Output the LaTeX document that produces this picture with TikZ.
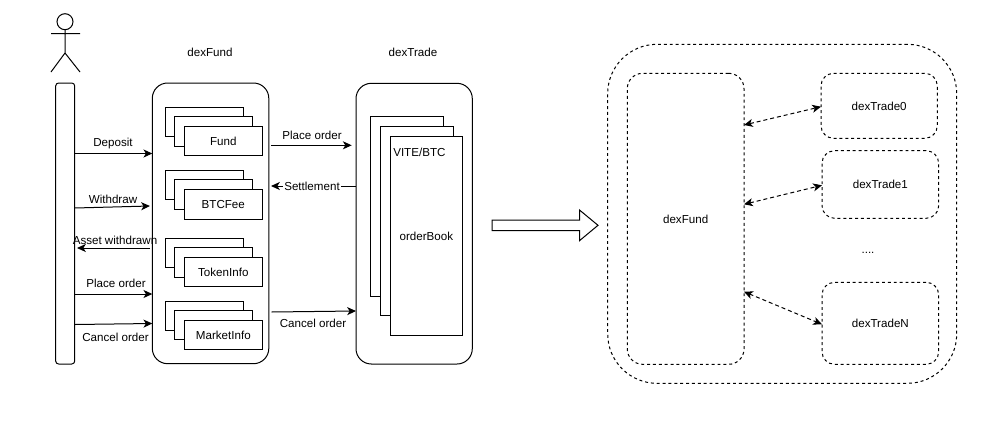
\documentclass[tikz,border=0pt]{standalone}
\usepackage{fontspec}
\setmainfont{Liberation Sans}
\usetikzlibrary{arrows.meta}
\tikzset{
  px/.style 2 args={minimum width=#1*0.75pt,minimum height=#2*0.75pt},
  base/.style={draw=black,line width=0.75pt,fill=white,inner sep=0pt,outer sep=0pt,anchor=north west,font=\fontsize{8.7}{10}\selectfont,text=black,text height=6.6pt,text depth=0pt},
  page/.style={base,px={78}{29.3}},
  book/.style={base,px={73}{180}},
  panel/.style={base,rounded corners=11.5pt,px={116.5}{280.7}},
  dbox/.style={base,dash pattern=on 2.2pt off 2.2pt,rounded corners=#1},
  lbl/.style={font=\fontsize{8.7}{10}\selectfont,inner sep=0pt,text=black,text height=6.6pt,text depth=0pt},
  conn/.style={line width=0.75pt,draw=black,-{Stealth[length=6.6pt,width=6pt,inset=1.8pt]}},
  dconn/.style={line width=0.75pt,draw=black,dash pattern=on 3pt off 2.2pt,{Stealth[length=6.6pt,width=6pt,inset=1.8pt]}-{Stealth[length=6.6pt,width=6pt,inset=1.8pt]}},
  stroke/.style={line width=0.75pt,draw=black}
}
\begin{document}
\begin{tikzpicture}[x=0.75pt,y=-0.75pt]
\useasboundingbox[fill=white] (0,0) rectangle (1000,433);
% actor
\node[stroke,circle,inner sep=0pt,outer sep=0pt,minimum size=12pt,anchor=center] (head) at (65,21.7) {};
\coordinate (hip) at (65,53);
\coordinate (armL) at (51,33.5);
\coordinate (armR) at (80,33.5);
\coordinate (legL) at (51,72);
\coordinate (legR) at (80,72);
\draw[stroke] (head.south) -- (hip) (armL) -- (armR) (legL) -- (hip) -- (legR);
% lifeline
\node[base,rounded corners=2.2pt,px={19}{281}] (life) at (55.7,83) {};
% panels
\node[lbl] (fundT) at (210,52) {dexFund};
\node[lbl] (tradeT) at (413,52) {dexTrade};
\node[panel] (fund) at (152.3,83) {};
\node[panel,px={116.3}{280.7}] (trade) at (356,83.3) {};
% stacks
\node[page] (a1) at (165,107) {};
\node[page] (a2) at (174.5,116.7) {};
\node[page] (a3) at (184.3,126.5) {Fund};
\node[page] (b1) at (165,170) {};
\node[page] (b2) at (174.5,179.9) {};
\node[page] (b3) at (184.3,189.7) {BTCFee};
\node[page] (c1) at (165,238.3) {};
\node[page] (c2) at (174.5,247.8) {};
\node[page] (c3) at (184.3,257.3) {TokenInfo};
\node[page] (d1) at (165,301) {};
\node[page] (d2) at (174.5,310.6) {};
\node[page] (d3) at (184.3,320.3) {MarketInfo};
% order books
\node[book,px={73.3}{180}] (o1) at (370,116.7) {};
\node[book,px={73}{189.4}] (o2) at (380,126.3) {};
\node[book,px={72.7}{199}] (o3) at (390,136.3) {orderBook};
\node[lbl,anchor=west] (vite) at (393,151.7) {VITE/BTC};
% left arrows
\node[lbl] (l1) at (113,142) {Deposit};
\draw[conn] (life.east |- 0,153.5) -- (fund.west |- 0,153.5);
\node[lbl] (l2) at (113,199) {Withdraw};
\draw[conn] (life.east |- 0,208) -- (150,206);
\draw[conn] (150,248) -- (77,248);
\node[lbl] (l3) at (115,240) {Asset withdrawn};
\node[lbl] (l4) at (116,283) {Place order};
\draw[conn] (life.east |- 0,294) -- (fund.west |- 0,294);
\node[lbl] (l5) at (115.5,337) {Cancel order};
\draw[conn] (life.east |- 0,324.5) -- (fund.west |- 0,323.5);
% middle arrows
\node[lbl] (m1) at (312,135) {Place order};
\draw[conn] (271,145.3) -- (351.7,145.3);
\draw[conn] (trade.west |- 0,186) -- (271,186);
\node[lbl,fill=white,inner xsep=1pt,inner ysep=1pt] (m2) at (312,186) {Settlement};
\node[lbl] (m3) at (313,323) {Cancel order};
\draw[conn] (271.5,312) -- (trade.west |- 0,311);
% big arrow
\draw[stroke,line join=miter] (492,220) -- (579.5,220) -- (579.5,210) -- (598,225.3) -- (579.5,240.7) -- (579.5,230.7) -- (492,230.7) -- cycle;
% right side
\node[dbox=37pt,px={349}{339}] (outer) at (607.7,44.3) {};
\node[dbox=11.5pt,px={116.7}{291}] (rf) at (627.3,73.3) {dexFund};
\node[dbox=9.5pt,px={116.3}{65}] (t0) at (821,73.3) {dexTrade0};
\node[dbox=9.5pt,px={116.7}{67.6}] (t1) at (822,150.7) {dexTrade1};
\node[dbox=9.5pt,px={116.7}{82}] (tn) at (822,282.3) {dexTradeN};
\node[lbl] (dots) at (868,249) {....};
\draw[dconn] (rf.east |- 0,125) -- (t0.west |- 0,106.7);
\draw[dconn] (rf.east |- 0,204.3) -- (t1.west |- 0,185.3);
\draw[dconn] (rf.east |- 0,291.7) -- (tn.west |- 0,324.3);
\end{tikzpicture}
\end{document}
